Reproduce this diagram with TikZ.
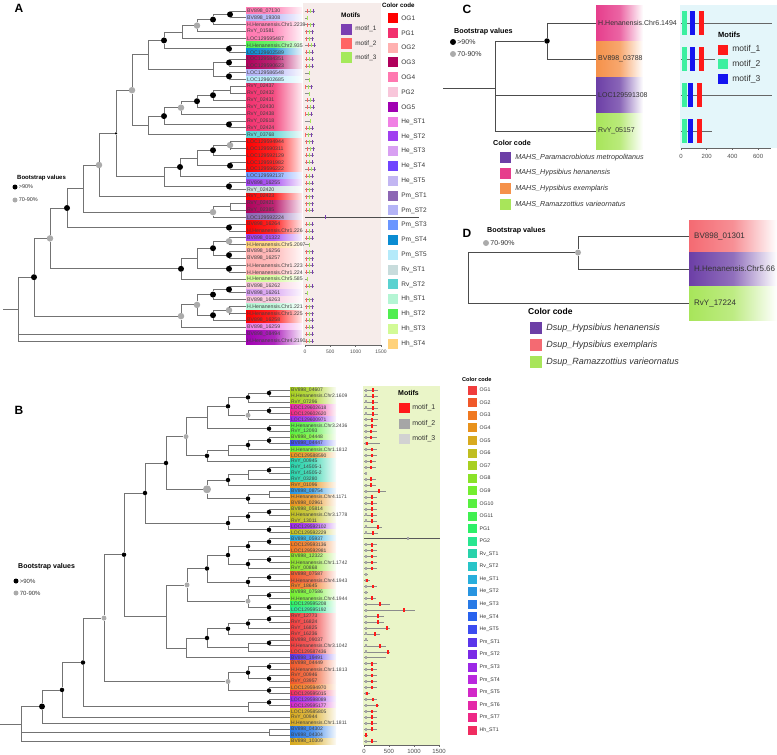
\documentclass[tikz,border=0pt]{standalone}
\usepackage{fontspec}
\setmainfont{Liberation Sans}
\usepackage{xcolor}
\usepackage{tikz}
\usetikzlibrary{positioning}
% panel A colour code
\definecolor{aOG1}{HTML}{FF0000}
\definecolor{aPG1}{HTML}{F2306E}
\definecolor{aOG2}{HTML}{FFB0B0}
\definecolor{aOG3}{HTML}{B0005C}
\definecolor{aOG4}{HTML}{FF78B0}
\definecolor{aPG2}{HTML}{F8C6DA}
\definecolor{aOG5}{HTML}{A000B2}
\definecolor{aHeST1}{HTML}{F080E4}
\definecolor{aHeST2}{HTML}{A040F0}
\definecolor{aHeST3}{HTML}{D8A0F2}
\definecolor{aHeST4}{HTML}{7044FF}
\definecolor{aHeST5}{HTML}{C2B6F2}
\definecolor{aPmST1}{HTML}{8C66B4}
\definecolor{aPmST2}{HTML}{B4B4F6}
\definecolor{aPmST3}{HTML}{6A96FF}
\definecolor{aPmST4}{HTML}{0A8CD2}
\definecolor{aPmST5}{HTML}{B4EAFA}
\definecolor{aRvST1}{HTML}{C8DCDC}
\definecolor{aRvST2}{HTML}{5AD2D0}
\definecolor{aHhST1}{HTML}{B4F5D4}
\definecolor{aHhST2}{HTML}{50EE50}
\definecolor{aHhST3}{HTML}{D2FA96}
\definecolor{aHhST4}{HTML}{FFD27A}
% panel B colour code
\definecolor{bOG1}{HTML}{F03C3C}
\definecolor{bOG2}{HTML}{F0582A}
\definecolor{bOG3}{HTML}{F07820}
\definecolor{bOG4}{HTML}{E8921C}
\definecolor{bOG5}{HTML}{D8AA1E}
\definecolor{bOG6}{HTML}{C0BE20}
\definecolor{bOG7}{HTML}{A8D020}
\definecolor{bOG8}{HTML}{8AE228}
\definecolor{bOG9}{HTML}{74EE30}
\definecolor{bOG10}{HTML}{58F040}
\definecolor{bOG11}{HTML}{40F050}
\definecolor{bPG1}{HTML}{2CF068}
\definecolor{bPG2}{HTML}{28E690}
\definecolor{bRvST1}{HTML}{28D2AA}
\definecolor{bRvST2}{HTML}{28C4C8}
\definecolor{bHeST1}{HTML}{28AEDC}
\definecolor{bHeST2}{HTML}{2894E0}
\definecolor{bHeST3}{HTML}{287AE6}
\definecolor{bHeST4}{HTML}{2862EE}
\definecolor{bHeST5}{HTML}{3C4CF0}
\definecolor{bPmST1}{HTML}{5A36EA}
\definecolor{bPmST2}{HTML}{7A2AE6}
\definecolor{bPmST3}{HTML}{9C28E6}
\definecolor{bPmST4}{HTML}{BA28DE}
\definecolor{bPmST5}{HTML}{D228C8}
\definecolor{bPmST6}{HTML}{E428A8}
\definecolor{bPmST7}{HTML}{EE2886}
\definecolor{bHhST1}{HTML}{F02C60}
% panels C and D
\definecolor{cPm}{HTML}{6C3FA6}
\definecolor{cHh}{HTML}{E63E8C}
\definecolor{cHe}{HTML}{F5914A}
\definecolor{cRv}{HTML}{A8E55A}
\definecolor{dHe}{HTML}{F46A72}
% motifs and backgrounds
\definecolor{mA1}{HTML}{7B3FB2}
\definecolor{mA2}{HTML}{FF6464}
\definecolor{mA3}{HTML}{A5E95A}
\definecolor{mB1}{HTML}{FF1A1A}
\definecolor{mB2}{HTML}{A6A6A6}
\definecolor{mB3}{HTML}{D2D2D2}
\definecolor{mC1}{HTML}{FF1A1A}
\definecolor{mC2}{HTML}{3CF0A0}
\definecolor{mC3}{HTML}{1414F0}
\definecolor{bgA}{HTML}{F6ECEA}
\definecolor{bgB}{HTML}{EAF5C8}
\definecolor{bgC}{HTML}{E4F6FA}
\newcommand{\fsz}[1]{\fontsize{#1}{#1}\selectfont}

\tikzset{
  branch/.style={draw=black!55, line width=0.9pt},
  darkbranch/.style={draw=black!70, line width=0.9pt},
  b90/.style={circle, fill=black, inner sep=0pt, minimum size=6pt},
  b70/.style={circle, fill=black!33, inner sep=0pt, minimum size=6.5pt},
  b90s/.style={circle, fill=black, inner sep=0pt, minimum size=2.5pt},
  b90B/.style={circle, fill=black, inner sep=0pt, minimum size=4.5pt},
  b70B/.style={circle, fill=black!33, inner sep=0pt, minimum size=5pt},
  b70L/.style={circle, fill=black!33, inner sep=0pt, minimum size=8pt},
  nd/.style={coordinate},
  leafA/.style={anchor=west, inner sep=1pt, font=\fsz{5.2}, text=black!75},
  leafB/.style={anchor=west, inner sep=1pt, font=\fsz{5}, text=black!75},
  leafC/.style={anchor=west, inner sep=2pt, font=\fsz{7}, text=black!80},
  leafD/.style={anchor=west, inner sep=5pt, font=\fsz{8}, text=black!80},
  panel/.style={font=\fsz{12}\bfseries},
  ttl/.style={anchor=west, inner sep=0pt, font=\fsz{6}\bfseries},
  sq/.style={inner sep=0pt, minimum size=10pt},
  lgtxt/.style={inner sep=0pt, font=\fsz{6.5}, text=black!80},
  axl/.style={inner sep=0pt, font=\fsz{5}, text=black!70},
  motline/.style={draw=black!45, line width=0.6pt},
}

\begin{document}
\begin{tikzpicture}[x=1pt, y=-1pt]
\useasboundingbox (0,0) rectangle (777,755);

\node[panel] (pA) at (19,8) {A};
\node[panel] (pB) at (19,410) {B};
\node[panel] (pC) at (467,9) {C};
\node[panel] (pD) at (467,233) {D};

% ================= panel A =================
\fill[bgA] (303,3) rectangle (381,345);
\foreach \i/\name/\col in {1/BV898\_07130/OG4, 2/BV898\_19308/PmST2, 3/H.Henanensis.Chr1.2239/OG4,
  4/RvY\_01581/OG4, 5/LOC129595487/OG4, 6/H.Henanensis.Chr2.935/HhST2, 7/LOC129602589/PmST4,
  8/LOC129584351/OG3, 9/LOC129590623/OG3, 10/LOC129586548/PmST2, 11/LOC129602685/PmST5,
  12/RvY\_02437/PG1, 13/RvY\_02432/PG1, 14/RvY\_02431/PG1, 15/RvY\_02430/PG1, 16/RvY\_02438/PG1,
  17/RvY\_02618/PG1, 18/RvY\_02424/PG1, 19/RvY\_03768/RvST2, 20/LOC129594944/OG1,
  21/LOC129590311/OG1, 22/LOC129592129/OG1, 23/LOC129591982/OG1, 24/LOC129596222/OG1,
  25/LOC129592137/PmST3, 26/BV898\_16255/HeST2, 27/RvY\_02420/RvST1, 28/RvY\_02423/OG1,
  29/RvY\_02421/OG3, 30/RvY\_02385/OG3, 31/LOC129592224/PmST1, 32/BV898\_16264/OG1,
  33/H.Henanensis.Chr1.226/OG1, 34/BV898\_01322/HeST2, 35/H.Henanensis.Chr5.2097/HhST4,
  36/BV898\_16256/OG2, 37/BV898\_16257/OG2, 38/H.Henanensis.Chr1.223/OG2, 39/H.Henanensis.Chr1.224/OG2,
  40/H.Henanensis.Chr5.585/HhST3, 41/BV898\_16262/PG2, 42/BV898\_16261/HeST3, 43/BV898\_16263/PG2,
  44/H.Henanensis.Chr1.221/HhST1, 45/H.Henanensis.Chr1.225/OG1, 46/BV898\_16258/OG1,
  47/BV898\_16259/HeST1, 48/BV898\_08494/OG5, 49/H.Henanensis.Chr4.2190/OG5}{
  \pgfmathsetmacro\yy{11+(\i-1)*6.875}
  \shade[left color=a\col, right color=a\col!8, middle color=a\col!85] (246,\yy-3.44) rectangle (302,\yy+3.44);
  \node[leafA] (la\i) at (246,\yy) {\name};
}
% internal nodes
\foreach \n/\px/\py/\s in {n1/230/14.4/b90, n2/213/19.6/b90, n3/197/25.6/b70, n4/182/32.1/nd,
  n5/229/48.8/b90, n6/164/40.4/b90, n7/229/62.6/b90, n8/229/76.3/b90, n9/213/69.4/nd,
  n10/148/54.9/nd, n11/230/90.1/nd, n12/213/95.2/b90, n13/197/101.2/b90, n14/181/107.7/b70,
  n15/229/124.4/b90, n16/164/116.1/b90, n17/148/125.4/nd, n18/132/90.2/b70, n19/230/145.1/b70,
  n20/213/150.2/b90, n21/230/165.7/b90, n22/197/158.0/nd, n23/180/167.0/b90, n24/229/186.3/b90,
  n25/164/176.7/nd, n26/116/133.4/b90s, n27/99/165.0/b70, n28/230/206.9/nd, n29/213/212.1/b70,
  n30/83/188.5/nd, n31/229/227.6/b90, n32/67/208.0/b90, n33/229/241.3/b70, n34/229/255.1/b90,
  n35/213/248.2/b90, n36/229/268.8/b90, n37/197/258.5/nd, n38/181/268.8/b90, n39/50/238.4/b70,
  n40/229/289.4/b90, n41/213/294.6/b90, n42/229/310.1/b70, n43/213/315.2/b90, n44/197/304.9/b70,
  n45/181/316.1/b70, n46/34/277.2/b90, n47/18/309.0/nd}
  \node[\s] (\n) at (\px,\py) {};
\coordinate (ra) at (3,309);
\foreach \pa/\ch in {n1/la1, n1/la2, n2/n1, n2/la3, n3/n2, n3/la4, n4/n3, n4/la5, n5/la6, n5/la7,
  n6/n4, n6/n5, n7/la8, n7/la9, n8/la10, n8/la11, n9/n7, n9/n8, n10/n6, n10/n9, n11/la12, n11/la13,
  n12/n11, n12/la14, n13/n12, n13/la15, n14/n13, n14/la16, n15/la17, n15/la18, n16/n14, n16/n15,
  n17/n16, n17/la19, n18/n10, n18/n17, n19/la20, n19/la21, n20/n19, n20/la22, n21/la23, n21/la24,
  n22/n20, n22/n21, n23/n22, n23/la25, n24/la26, n24/la27, n25/n23, n25/n24, n26/n18, n26/n25,
  n27/n26, n27/la28, n28/la29, n28/la30, n29/n28, n29/la31, n30/n27, n30/n29, n31/la32, n31/la33,
  n32/n30, n32/n31, n33/la34, n33/la35, n34/la36, n34/la37, n35/n33, n35/n34, n36/la38, n36/la39,
  n37/n35, n37/n36, n38/n37, n38/la40, n39/n32, n39/n38, n40/la41, n40/la42, n41/n40, n41/la43,
  n42/la44, n42/la45, n43/n42, n43/la46, n44/n41, n44/n43, n45/n44, n45/la47, n46/n39, n46/n45,
  n47/n46, n47/la48, n47/la49}
  \draw[branch] (\pa) |- (\ch);
\draw[branch] (ra) -- (n47);
% motif glyphs
\foreach \i/\l in {1/10,2/3,3/10,4/9,5/9,6/11,7/9,8/9,9/9,10/5,11/5,12/8,13/5,14/10,15/10,16/8,
  17/6,18/9,19/8,20/9,21/10,22/9,23/9,24/11,25/9,26/9,27/9,28/9,29/9,30/9,32/9,33/9,34/9,35/5,
  36/9,37/9,38/9,39/9,40/3,41/9,42/3,43/9,44/9,45/9,46/9,47/9,48/9,49/9}{
  \pgfmathsetmacro\yy{11+(\i-1)*6.875}
  \draw[motline] (305,\yy) -- ++(\l,0);
  \ifdim\l pt>6pt
    \fill[mA2] (305+\l-8,\yy-2) rectangle ++(1.3,4);
    \fill[mA3] (305+\l-5,\yy-2) rectangle ++(1.3,4);
    \fill[mA1] (305+\l-2,\yy-2) rectangle ++(1.3,4);
  \else
    \fill[mA3] (305+\l-1.5,\yy-2) rectangle ++(1.3,4);
  \fi
}
\draw[black!70, line width=0.6pt] (305,217.25) -- (419,217.25);
\fill[mA1] (324.5,215.25) rectangle ++(1.3,4);
\draw[black!60, line width=0.5pt] (305,345) -- (381,345);
\foreach \v/\xx in {0/305, 500/330.3, 1000/355.7, 1500/381}{
  \draw[black!60, line width=0.5pt] (\xx,345) -- ++(0,2);
  \node[axl] (axa\v) at (\xx,352) {\v};
}
% motif legend
\node[ttl, font=\fsz{6.5}\bfseries] (motA) at (341,15) {Motifs};
\foreach \c/\t [count=\k] in {mA1/motif\_1, mA2/motif\_2, mA3/motif\_3}{
  \node[sq, minimum size=11pt, fill=\c] (ma\k) at (346.5,{15+\k*14.3}) {};
  \node[lgtxt, font=\fsz{6.4}, right=3pt of ma\k] (mat\k) {\t};
}
% colour code
\node[ttl, font=\fsz{6.2}\bfseries] (ccA) at (382,5) {Color code};
\foreach \c/\t [count=\k] in {OG1/OG1, PG1/PG1, OG2/OG2, OG3/OG3, OG4/OG4, PG2/PG2, OG5/OG5,
  HeST1/He\_ST1, HeST2/He\_ST2, HeST3/He\_ST3, HeST4/He\_ST4, HeST5/He\_ST5, PmST1/Pm\_ST1,
  PmST2/Pm\_ST2, PmST3/Pm\_ST3, PmST4/Pm\_ST4, PmST5/Pm\_ST5, RvST1/Rv\_ST1, RvST2/Rv\_ST2,
  HhST1/Hh\_ST1, HhST2/Hh\_ST2, HhST3/Hh\_ST3, HhST4/Hh\_ST4}{
  \node[sq, fill=a\c] (ka\k) at (393,{18+(\k-1)*14.8}) {};
  \node[lgtxt, right=3pt of ka\k] (kat\k) {\t};
}
% bootstrap legend
\node[ttl] (bsA) at (17,178) {Bootstrap values};
\node[b90, minimum size=5pt] (bsA1) at (15,187) {};
\node[lgtxt, font=\fsz{5.5}, right=1pt of bsA1] (bsA1t) {>90\%};
\node[b70, minimum size=5pt] (bsA2) at (15,200) {};
\node[lgtxt, font=\fsz{5.5}, right=1pt of bsA2] (bsA2t) {70-90\%};

% ================= panel B =================
\fill[bgB] (363,386) rectangle (440,745);
\foreach \i/\name/\col in {1/BV898\_04607/OG7, 2/H.Henanensis.Chr2.1609/OG7, 3/RvY\_07296/OG7,
  4/LOC129602618/PmST6, 5/LOC129602620/PmST7, 6/LOC129600971/PmST3, 7/H.Henanensis.Chr3.2436/OG10,
  8/RvY\_12093/OG10, 9/BV898\_04448/OG9, 10/BV898\_04447/HeST5, 11/H.Henanensis.Chr1.1812/OG9,
  12/LOC129588590/OG4, 13/RvY\_00945/RvST1, 14/RvY\_14505-1/RvST1, 15/RvY\_14505-2/RvST1,
  16/RvY\_03280/RvST1, 17/RvY\_01096/OG4, 18/BV898\_08754/HeST2, 19/H.Henanensis.Chr4.1171/OG4,
  20/BV898\_02961/OG4, 21/BV898\_05814/OG6, 22/H.Henanensis.Chr3.1778/OG6, 23/RvY\_13011/OG6,
  24/LOC129592102/PmST3, 25/LOC129592229/OG6, 26/BV898\_05937/HeST1, 27/LOC129593136/OG3,
  28/LOC129592981/OG3, 29/BV898\_12322/OG8, 30/H.Henanensis.Chr1.1742/OG8, 31/RvY\_00868/OG8,
  32/BV898\_07587/OG2, 33/H.Henanensis.Chr4.1943/OG2, 34/RvY\_18645/OG3, 35/BV898\_07586/OG9,
  36/H.Henanensis.Chr4.1944/OG9, 37/LOC129595208/PG1, 38/LOC129595192/PG2, 39/RvY\_12773/OG1,
  40/RvY\_16824/OG1, 41/RvY\_16825/OG1, 42/RvY\_16236/OG1, 43/BV898\_09037/OG1,
  44/H.Henanensis.Chr3.1042/OG1, 45/LOC129587436/OG1, 46/BV898\_19491/PmST1, 47/BV898\_04449/OG2,
  48/H.Henanensis.Chr1.1813/OG2, 49/RvY\_00946/OG2, 50/RvY\_03957/OG2, 51/LOC129594970/OG3,
  52/LOC129595015/HhST1, 53/LOC129598089/PmST3, 54/LOC129595177/PmST5, 55/LOC129585805/OG5,
  56/RvY\_00944/OG5, 57/H.Henanensis.Chr1.1811/OG5, 58/BV898\_04302/HeST3, 59/BV898\_04304/HeST3,
  60/BV898\_10309/OG5}{
  \pgfmathsetmacro\yy{390+(\i-1)*5.95}
  \shade[left color=b\col, right color=b\col!5, middle color=b\col!80] (290,\yy-2.975) rectangle (336,\yy+2.975);
  \node[leafB] (lb\i) at (290,\yy) {\name};
}
\foreach \n/\px/\py/\s in {m1/269/393.0/b90B, m2/248/397.4/b90B, m3/269/410.8/b90B, m4/248/415.3/b70B,
  m5/228/406.3/b90B, m6/269/428.7/b90B, m7/207/417.5/nd, m8/269/440.6/b90B, m9/248/445.0/b90B,
  m10/228/450.2/nd, m11/207/455.8/b90B, m12/186/436.6/b70B, m13/269/470.3/b90B, m14/248/474.8/nd,
  m15/228/480.0/b90B, m16/269/494.1/nd, m17/248/498.6/b90B, m18/207/489.3/b70L, m19/166/463.0/b90B,
  m20/269/512.0/b90B, m21/248/516.4/b90B, m22/269/529.8/b90B, m23/228/523.1/b90B, m24/145/493.0/b90B,
  m25/269/541.7/b90B, m26/248/546.2/b90B, m27/269/559.6/b90B, m28/248/564.0/b90B, m29/228/555.1/b90B,
  m30/269/577.4/b90B, m31/248/581.9/b90B, m32/207/568.5/b90B, m33/269/595.3/b90B, m34/269/607.2/b90B,
  m35/248/601.2/b70B, m36/187/584.9/b70B, m37/269/619.1/b90B, m38/248/623.5/b90B, m39/228/628.7/b90B,
  m40/269/642.9/b90B, m41/248/647.3/nd, m42/207/638.0/b90B, m43/186/647.9/nd, m44/166/616.4/nd,
  m45/124/554.7/b90B, m46/269/666.7/b90B, m47/269/678.6/b90B, m48/248/672.6/b90B, m49/269/690.5/b90B,
  m50/228/681.5/b70B, m51/104/618.1/b70B, m52/269/702.4/b90B, m53/248/706.8/nd, m54/83/662.5/b90B,
  m55/62/689.9/b90B, m56/42/706.5/b90, m57/269/732.1/nd, m58/21/724.0/nd}
  \node[\s] (\n) at (\px,\py) {};
\coordinate (rb) at (0,724);
\foreach \pa/\ch in {m1/lb1, m1/lb2, m2/m1, m2/lb3, m3/lb4, m3/lb5, m4/m3, m4/lb6, m5/m2, m5/m4,
  m6/lb7, m6/lb8, m7/m5, m7/m6, m8/lb9, m8/lb10, m9/m8, m9/lb11, m10/m9, m10/lb12, m11/m10, m11/lb13,
  m12/m7, m12/m11, m13/lb14, m13/lb15, m14/m13, m14/lb16, m15/m14, m15/lb17, m16/lb18, m16/lb19,
  m17/m16, m17/lb20, m18/m15, m18/m17, m19/m12, m19/m18, m20/lb21, m20/lb22, m21/m20, m21/lb23,
  m22/lb24, m22/lb25, m23/m21, m23/m22, m24/m19, m24/m23, m25/lb26, m25/lb27, m26/m25, m26/lb28,
  m27/lb29, m27/lb30, m28/m27, m28/lb31, m29/m26, m29/m28, m30/lb32, m30/lb33, m31/m30, m31/lb34,
  m32/m29, m32/m31, m33/lb35, m33/lb36, m34/lb37, m34/lb38, m35/m33, m35/m34, m36/m32, m36/m35,
  m37/lb39, m37/lb40, m38/m37, m38/lb41, m39/m38, m39/lb42, m40/lb43, m40/lb44, m41/m40, m41/lb45,
  m42/m39, m42/m41, m43/m42, m43/lb46, m44/m36, m44/m43, m45/m24, m45/m44, m46/lb47, m46/lb48,
  m47/lb49, m47/lb50, m48/m46, m48/m47, m49/lb51, m49/lb52, m50/m48, m50/m49, m51/m45, m51/m50,
  m52/lb53, m52/lb54, m53/m52, m53/lb55, m54/m51, m54/m53, m55/m54, m55/lb56, m56/m55, m56/lb57,
  m57/lb58, m57/lb59, m58/m56, m58/m57, m58/lb60}
  \draw[branch, line width=0.8pt] (\pa) |- (\ch);
\draw[branch, line width=0.8pt] (rb) -- (m58);
% motif glyphs
\foreach \i/\l/\r in {1/14/8, 2/14/8, 3/14/8, 4/14/8, 5/14/8, 6/14/7, 7/13/7, 8/13/6, 9/13/6,
  10/16/2, 11/13/7, 12/13/7, 13/12/6, 14/12/6, 15/3/-1, 16/12/6, 17/12/6, 18/22/14, 19/13/7,
  20/13/7, 21/13/7, 22/13/7, 23/13/7, 24/18/13, 25/14/8, 27/13/7, 28/13/7, 29/13/7, 30/13/7,
  31/13/7, 32/4/-1, 33/6/2, 34/13/8, 35/4/-1, 36/12/7, 37/26/15, 38/51/39, 39/20/13, 40/20/13,
  41/26/22, 42/16/10, 43/4/-1, 44/22/15, 45/26/23, 46/22/-1, 47/13/7, 48/13/7, 49/13/7, 50/13/7,
  51/13/7, 52/6/2, 53/13/8, 54/15/12, 55/13/7, 56/13/7, 57/13/7, 58/13/7, 59/4/1, 60/13/7}{
  \pgfmathsetmacro\yy{390+(\i-1)*5.95}
  \draw[motline] (364,\yy) -- ++(\l,0);
  \fill[mB2] (364.5,\yy-1.5) rectangle ++(2,3);
  \ifdim\r pt>0pt
    \fill[mB1] (364+\r,\yy-1.8) rectangle ++(2.4,3.6);
  \fi
}
\draw[black!65, line width=0.6pt] (364,538.75) -- (440,538.75);
\fill[mB2] (407,537.25) rectangle ++(2,3);
\draw[black!60, line width=0.5pt] (364,745) -- (439,745);
\foreach \v/\xx in {0/364, 500/389, 1000/414, 1500/439}{
  \draw[black!60, line width=0.5pt] (\xx,745) -- ++(0,2);
  \node[axl, font=\fsz{6}] (axb\v) at (\xx,751.5) {\v};
}
\node[ttl, font=\fsz{7}\bfseries] (motB) at (398,393) {Motifs};
\foreach \c/\t [count=\k] in {mB1/motif\_1, mB2/motif\_2, mB3/motif\_3}{
  \node[sq, minimum width=11pt, minimum height=10pt, fill=\c] (mb\k) at (404.5,{392.5+\k*15.5}) {};
  \node[lgtxt, font=\fsz{7}, right=2pt of mb\k] (mbt\k) {\t};
}
\node[ttl, font=\fsz{5.6}\bfseries] (ccB) at (462,379) {Color code};
\foreach \c/\t [count=\k] in {OG1/OG1, OG2/OG2, OG3/OG3, OG4/OG4, OG5/OG5, OG6/OG6, OG7/OG7,
  OG8/OG8, OG9/OG9, OG10/OG10, OG11/OG11, PG1/PG1, PG2/PG2, RvST1/Rv\_ST1, RvST2/Rv\_ST2,
  HeST1/He\_ST1, HeST2/He\_ST2, HeST3/He\_ST3, HeST4/He\_ST4, HeST5/He\_ST5, PmST1/Pm\_ST1,
  PmST2/Pm\_ST2, PmST3/Pm\_ST3, PmST4/Pm\_ST4, PmST5/Pm\_ST5, PmST6/Pm\_ST6, PmST7/Pm\_ST7,
  HhST1/Hh\_ST1}{
  \node[sq, minimum width=8.5pt, minimum height=9pt, fill=b\c] (kb\k) at (472.5,{390+(\k-1)*12.6}) {};
  \node[lgtxt, font=\fsz{5.2}, right=2.5pt of kb\k] (kbt\k) {\t};
}
\node[ttl, font=\fsz{7}\bfseries] (bsB) at (18,567) {Bootstrap values};
\node[b90, minimum size=5pt] (bsB1) at (16,581) {};
\node[lgtxt, font=\fsz{6}, right=1pt of bsB1] (bsB1t) {>90\%};
\node[b70, minimum size=5pt] (bsB2) at (16,593) {};
\node[lgtxt, font=\fsz{6}, right=1pt of bsB2] (bsB2t) {70-90\%};

% ================= panel C =================
\fill[bgC] (680,5) rectangle (777,148);
\foreach \i/\name/\col/\py in {1/H.Henanensis.Chr6.1494/cHh/23, 2/BV898\_03788/cHe/59,
  3/LOC129591308/cPm/95, 4/RvY\_05157/cRv/131}{
  \shade[left color=\col, right color=white, middle color=\col!80] (596,\py-18) rectangle (643,\py+18);
  \node[leafC] (lc\i) at (596,\py) {\name};
}
\node[b90, minimum size=5.5pt] (c1) at (547,41) {};
\coordinate (c0) at (495,88);
\coordinate (cr) at (443,88);
\foreach \pa/\ch in {c1/lc1, c1/lc2, c0/c1, c0/lc3, c0/lc4}
  \draw[darkbranch] (\pa) |- (\ch);
\draw[darkbranch] (cr) -- (c0);
\foreach \py/\l/\g/\b/\r in {23/91/1/9/18, 59/34/1/9/18, 95/91/1/7/16, 131/31/1/7/16}{
  \draw[black!60, line width=0.7pt] (681,\py) -- ++(\l,0);
  \fill[mC2] (681+\g,\py-12) rectangle ++(5,24);
  \fill[mC3] (681+\b,\py-12) rectangle ++(5,24);
  \fill[mC1] (681+\r,\py-12) rectangle ++(4.5,24);
}
\draw[black!60, line width=0.5pt] (681,148) -- (771,148);
\foreach \v/\xx in {0/681, 200/706.7, 400/732.4, 600/758.1}{
  \draw[black!60, line width=0.5pt] (\xx,148) -- ++(0,2);
  \node[axl, font=\fsz{6}] (axc\v) at (\xx,156) {\v};
}
\node[ttl, font=\fsz{7.5}\bfseries] (motC) at (718,35) {Motifs};
\foreach \c/\t [count=\k] in {mC1/motif\_1, mC2/motif\_2, mC3/motif\_3}{
  \node[sq, fill=\c] (mc\k) at (723,{35+\k*14.7}) {};
  \node[lgtxt, font=\fsz{8.5}, right=4pt of mc\k] (mct\k) {\t};
}
\node[ttl, font=\fsz{7.2}\bfseries] (bsC) at (454,32) {Bootstrap values};
\node[b90, minimum size=6pt] (bsC1) at (453,42) {};
\node[lgtxt, font=\fsz{7}, right=1pt of bsC1] (bsC1t) {>90\%};
\node[b70, minimum size=6pt] (bsC2) at (453,54) {};
\node[lgtxt, font=\fsz{7}, right=1pt of bsC2] (bsC2t) {70-90\%};
\node[ttl, font=\fsz{7.2}\bfseries] (ccC) at (493,143) {Color code};
\foreach \c/\t [count=\k] in {cPm/Paramacrobiotus metropolitanus, cHh/Hypsibius henanensis,
  cHe/Hypsibius exemplaris, cRv/Ramazzottius varieornatus}{
  \node[sq, minimum size=11pt, fill=\c] (kc\k) at (505.5,{141.5+\k*15.8}) {};
  \node[lgtxt, font=\fsz{7.2}\itshape, right=4pt of kc\k] (kct\k) {MAHS\_\t};
}

% ================= panel D =================
\foreach \i/\name/\col/\py/\h in {1/BV898\_01301/dHe/236/16, 2/H.Henanensis.Chr5.66/cPm/269/17,
  3/RvY\_17224/cRv/303/17}{
  \shade[left color=\col, right color=white, middle color=\col!75] (689,\py-\h) rectangle (777,\py+\h);
  \node[leafD] (ld\i) at (689,\py) {\name};
}
\node[b70, minimum size=6pt] (d1) at (578,252.5) {};
\coordinate (d0) at (468,277.7);
\foreach \pa/\ch in {d1/ld1, d1/ld2, d0/d1, d0/ld3}
  \draw[darkbranch] (\pa) |- (\ch);
\node[ttl, font=\fsz{7.2}\bfseries] (bsD) at (487,231) {Bootstrap values};
\node[b70, minimum size=6pt] (bsD1) at (486,243) {};
\node[lgtxt, font=\fsz{7}, right=1pt of bsD1] (bsD1t) {70-90\%};
\node[ttl, font=\fsz{8.5}\bfseries] (ccD) at (528,311) {Color code};
\foreach \c/\t [count=\k] in {cPm/Hypsibius henanensis, dHe/Hypsibius exemplaris,
  cRv/Ramazzottius varieornatus}{
  \node[sq, minimum size=12pt, fill=\c] (kd\k) at (536,{311+\k*17}) {};
  \node[lgtxt, font=\fsz{9}\itshape, right=4pt of kd\k] (kdt\k) {Dsup\_\t};
}
\end{tikzpicture}
\end{document}
